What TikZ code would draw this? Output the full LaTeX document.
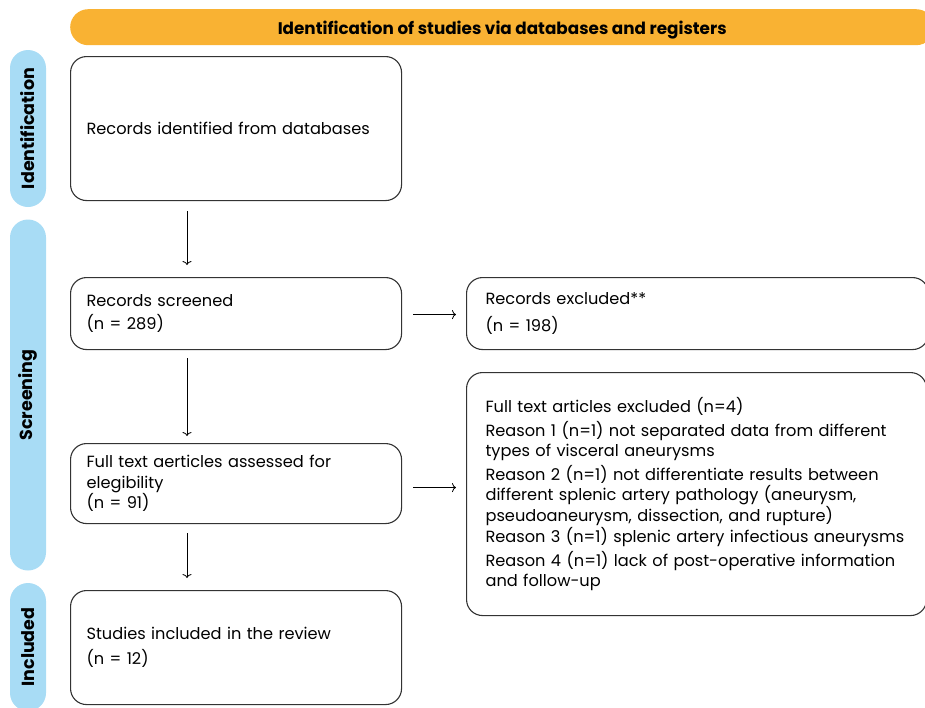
\documentclass[tikz,border=0pt]{standalone}
\usepackage{fontspec}
\setmainfont{Poppins}
\usetikzlibrary{arrows.meta,calc}
\definecolor{bannerorange}{HTML}{F9B233}
\definecolor{sideblue}{HTML}{A8DCF5}
\definecolor{boxline}{HTML}{333333}
\begin{document}
\begin{tikzpicture}[x=1pt,y=-1pt,
  stagebox/.style={draw=boxline, line width=1.1pt, rounded corners=16pt, fill=white,
    align=left, inner xsep=16pt, inner ysep=0pt, anchor=north west,
    font=\fontsize{16.2}{20.5}\selectfont},
  sidebar/.style={fill=sideblue, rounded corners=18pt, rotate=90, minimum height=36pt,
    inner sep=0pt, font=\fontsize{17.5}{20}\selectfont\bfseries},
  flow/.style={-{To[length=4pt,width=9pt]}, line width=0.8pt, draw=black}]
\useasboundingbox (0,0) rectangle (925,707);
\clip (0,0) rectangle (925,707);

% banner
\node (banner) [fill=bannerorange, rounded corners=18pt, anchor=north west,
  minimum width=864pt, minimum height=36pt, inner sep=0pt, text height=15pt, text depth=0pt,
  font=\fontsize{16.8}{18}\selectfont\bfseries] at (70,9)
  {Identification of studies via databases and registers};

% side bars
\node (sideid) [sidebar, minimum width=157pt] at (28,128.5) {Identification};
\node (sidescr) [sidebar, minimum width=351pt] at (28,395) {Screening};
\node (sideinc) [sidebar, minimum width=128pt] at (28,647) {Included};

% boxes
\node (box1) [stagebox, minimum width=331pt, minimum height=144pt, text width=299pt] at (70,56)
  {Records identified from databases};
\node (box2) [stagebox, minimum width=331pt, minimum height=72pt, text width=299pt] at (70,277)
  {Records screened\\[2pt](n = 289)};
\node (box3) [stagebox, inner xsep=19pt, minimum width=462pt, minimum height=72pt, text width=424pt] at (466,277)
  {Records excluded**\\[6pt](n = 198)};
\node (box4) [stagebox, minimum width=331pt, minimum height=80pt, text width=299pt] at (70,443)
  {Full text aerticles assessed for\\elegibility\\(n = 91)};
\node (box5) [stagebox, inner xsep=19pt, minimum width=460pt, minimum height=243pt, text width=422pt] at (466,372)
  {Full text articles excluded (n=4)\\[3pt]
   Reason 1 (n=1) not separated data from different\\types of visceral aneurysms\\[3pt]
   Reason 2 (n=1) not differentiate results between\\different splenic artery pathology (aneurysm,\\pseudoaneurysm, dissection, and rupture)\\[1pt]
   Reason 3 (n=1) splenic artery infectious aneurysms\\[3pt]
   Reason 4 (n=1) lack of post-operative information\\and follow-up};
\node (box6) [stagebox, minimum width=331pt, minimum height=114pt, text width=299pt] at (70,590)
  {Studies included in the review\\[5pt](n = 12)};

% connectors
\coordinate (c1) at ($(box1.south west)+(117,0)$);
\draw[flow, shorten <=10pt, shorten >=12pt] (c1) -- (c1 |- box2.north);
\coordinate (c2) at ($(box2.south west)+(117,0)$);
\draw[flow, shorten <=8pt, shorten >=7pt] (c2) -- (c2 |- box4.north);
\coordinate (c3) at ($(box4.south west)+(117,0)$);
\draw[flow, shorten <=9pt, shorten >=12pt] (c3) -- (c3 |- box6.north);
\coordinate (h1) at ($(box2.east)+(0,1)$);
\draw[flow, shorten <=11pt, shorten >=10pt] (h1) -- (h1 -| box3.west);
\coordinate (h2) at ($(box4.east)+(0,4)$);
\draw[flow, shorten <=11pt, shorten >=10pt] (h2) -- (h2 -| box5.west);
\end{tikzpicture}
\end{document}
